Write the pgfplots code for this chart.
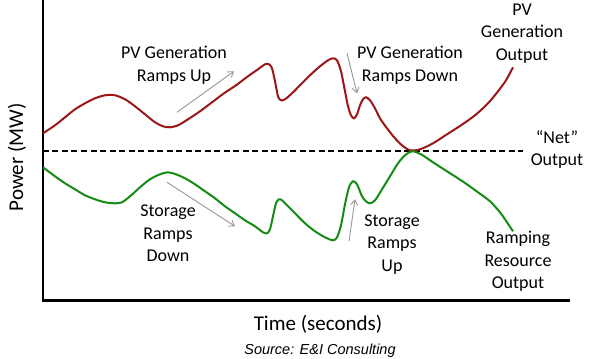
\documentclass[border=0pt]{standalone}
\usepackage{pgfplots}
\pgfplotsset{compat=1.18}
\usepackage{fontspec}
\setmainfont{Carlito}
\newfontfamily\arialf{Liberation Sans}
\usetikzlibrary{arrows.meta}
\definecolor{pvred}{RGB}{155,22,22}
\definecolor{stgreen}{RGB}{20,140,20}
\definecolor{arrgray}{RGB}{150,150,150}
\begin{document}
\begin{tikzpicture}
\begin{axis}[
  scale only axis, width=526pt, height=299pt,
  xmin=43, xmax=569, ymin=58, ymax=357,
  axis lines=left, axis line style={-, line width=2.6pt, line cap=rect},
  xtick=\empty, ytick=\empty,
  clip=false,
]
\path (axis cs:0,0) rectangle (axis cs:600,357);
% dashed net output
\addplot[black, line width=1.8pt, dash pattern=on 6pt off 3.5pt] coordinates {(43,207) (523,207)};
% PV generation output
\addplot[pvred, line width=2pt, smooth, tension=0.5] coordinates {
(43,225) (55,233) (65,241) (75,249) (85,255) (95,260) (105,263) (115,263) (125,259)
(135,252) (145,244) (155,236) (163,232) (170,231) (178,233) (188,239) (200,247) (212,256)
(224,265) (236,273) (248,282) (258,289) (265,294) (269,294) (272,290) (275,277) (278,262)
(281,258) (285,259) (292,265) (300,273) (310,283) (320,292) (328,298) (333,300) (337,298)
(341,287) (345,267) (348,252) (351,243) (354,240) (357,244) (360,253) (363,259) (366,261)
(370,258) (375,250) (380,240) (387,230) (395,220) (402,213) (410,208) (420,209) (433,215)
(447,224) (461,233) (475,243) (488,255) (498,267) (506,278) (513,291)};
% Ramping resource output
\addplot[stgreen, line width=2pt, smooth, tension=0.5] coordinates {
(43,191) (55,182) (65,175) (75,169) (85,163) (95,159) (105,156) (115,155) (122,156)
(130,162) (140,171) (150,179) (160,184) (168,186) (176,184) (185,180) (195,174) (205,167)
(215,160) (225,152) (235,145) (245,138) (255,132) (263,126) (267,125) (270,129) (273,142)
(276,155) (279,159) (282,158) (287,153) (295,145) (305,135) (315,127) (325,121) (333,118)
(337,121) (341,133) (345,154) (349,171) (353,177) (357,174) (362,162) (366,157) (370,155)
(375,158) (382,169) (390,182) (398,195) (405,203) (412,207) (421,204) (433,196) (447,187)
(464,176) (478,166) (490,157) (500,146) (507,136) (513,127)};
% arrows
\draw[arrgray, line width=0.9pt, -{Straight Barb[length=5pt,width=7pt]}] (axis cs:177,246) -- (axis cs:234,287);
\draw[arrgray, line width=0.9pt, -{Straight Barb[length=5pt,width=7pt]}] (axis cs:347,305) -- (axis cs:357,265);
\draw[arrgray, line width=0.9pt, -{Straight Barb[length=5pt,width=7pt]}] (axis cs:167,176) -- (axis cs:235,132);
\draw[arrgray, line width=0.9pt, -{Straight Barb[length=5pt,width=7pt]}] (axis cs:349,117) -- (axis cs:355,159);
% labels
\tikzset{lab/.style={align=center, inner sep=0pt, font=\fontsize{18}{22.5}\selectfont}}
\node[lab] at (axis cs:174,293) {PV Generation\\Ramps Up};
\node[lab] at (axis cs:410,293) {PV Generation\\Ramps Down};
\node[lab] at (axis cs:522,325) {PV\\Generation\\Output};
\node[lab] at (axis cs:557,209) {“Net”\\Output};
\node[lab] at (axis cs:168,125) {Storage\\Ramps\\Down};
\node[lab] at (axis cs:392,114) {Storage\\Ramps\\Up};
\node[lab] at (axis cs:518,97) {Ramping\\Resource\\Output};
\node[inner sep=0pt, font=\fontsize{21}{25}\selectfont] at (axis cs:318,34) {Time (seconds)};
\node[inner sep=0pt, font=\arialf\itshape\fontsize{14.5}{17}\selectfont] at (axis cs:320,8) {Source: E\&I Consulting};
\node[inner sep=0pt, rotate=90, font=\fontsize{21}{25}\selectfont] at (axis cs:17,201) {Power (MW)};
\end{axis}
\end{tikzpicture}
\end{document}
